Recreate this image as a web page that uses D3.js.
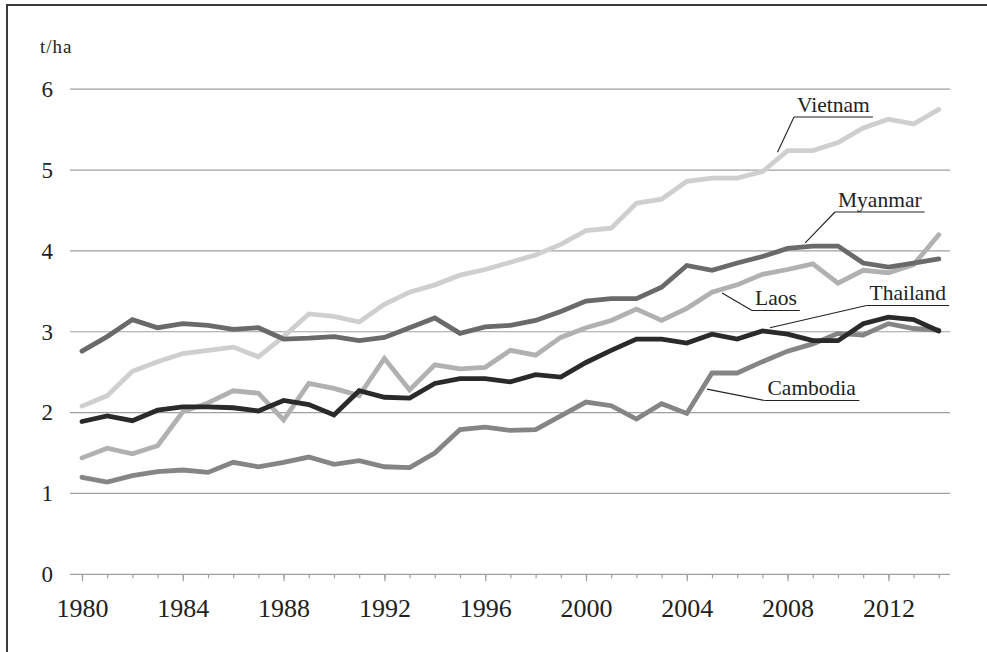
<!DOCTYPE html>
<html>
<head>
<meta charset="utf-8">
<script src="https://cdn.jsdelivr.net/npm/d3@7"></script>
<style>
  html, body { margin: 0; padding: 0; background: #fff; }
  svg { display: block; }
  svg text { font-family: "Liberation Serif", "DejaVu Serif", serif !important; fill: #222; }
</style>
</head>
<body>
<div id="chart"></div>
<script>
// ---- data ----
const years = d3.range(1980, 2015);
const vietnam = [2.08,2.21,2.51,2.63,2.73,2.77,2.81,2.69,2.94,3.22,3.19,3.12,3.34,3.49,3.58,3.70,3.77,3.86,3.95,4.08,4.25,4.28,4.59,4.64,4.86,4.90,4.90,4.98,5.24,5.24,5.34,5.52,5.63,5.57,5.75];
const myanmar = [2.76,2.94,3.15,3.05,3.10,3.08,3.03,3.05,2.91,2.92,2.94,2.89,2.93,3.05,3.17,2.98,3.06,3.08,3.14,3.25,3.38,3.41,3.41,3.55,3.82,3.76,3.85,3.93,4.03,4.06,4.06,3.85,3.80,3.85,3.90];
const laos    = [1.44,1.56,1.49,1.59,2.01,2.12,2.27,2.24,1.91,2.36,2.30,2.21,2.67,2.28,2.59,2.54,2.56,2.77,2.71,2.93,3.05,3.14,3.28,3.14,3.29,3.49,3.58,3.71,3.77,3.84,3.60,3.76,3.73,3.83,4.20];
const thailand= [1.89,1.96,1.90,2.03,2.07,2.07,2.06,2.02,2.15,2.10,1.97,2.27,2.19,2.18,2.36,2.42,2.42,2.38,2.47,2.44,2.62,2.77,2.91,2.91,2.86,2.97,2.91,3.01,2.97,2.89,2.89,3.10,3.18,3.15,3.01];
const cambodia= [1.20,1.14,1.22,1.27,1.29,1.26,1.385,1.33,1.385,1.45,1.36,1.405,1.33,1.32,1.50,1.79,1.82,1.78,1.79,1.96,2.13,2.085,1.92,2.11,1.99,2.49,2.49,2.63,2.76,2.85,2.98,2.96,3.10,3.04,3.02];
const seriesNames = ["Vietnam","Laos","Cambodia","Myanmar","Thailand"];
const yTicks = [0,1,2,3,4,5,6];
const xLabelTicks = [1980,1984,1988,1992,1996,2000,2004,2008,2012];
const unitLabel = "t/ha";

// ---- styles / layout ----
const W = 987, H = 652;
const FONT = '"Liberation Serif", "DejaVu Serif", serif';
const colors = { Vietnam:"#cfcfcf", Laos:"#b1b1b1", Cambodia:"#858585", Myanmar:"#6a6a6a", Thailand:"#2a2a2a" };
const valuesBy = { Vietnam:vietnam, Laos:laos, Cambodia:cambodia, Myanmar:myanmar, Thailand:thailand };
// annotation layout: text position (px) and leader target in data coordinates
const notes = [
  { name:"Vietnam",  tx:797, ty:111.5, year:2007.6, val:5.22 },
  { name:"Myanmar",  tx:838, ty:206.5, year:2008.7, val:4.10 },
  { name:"Laos",     tx:755, ty:305,   year:2005.4, val:3.48 },
  { name:"Thailand", tx:869.5, ty:300, year:2007.3, val:3.05 },
  { name:"Cambodia", tx:767.5, ty:395, year:2004.8, val:2.29 }
];

const svg = d3.select("#chart").append("svg").attr("width", W).attr("height", H)
  .attr("font-family", FONT);

// frame (left and top edges visible)
svg.append("rect").attr("x", 7).attr("y", 5).attr("width", W + 20).attr("height", H + 20)
  .attr("fill", "none").attr("stroke", "#3a3a3a").attr("stroke-width", 2);

const x = d3.scaleLinear().domain([1980, 2014]).range([82, 938.8]);
const y = d3.scaleLinear().domain([0, 6]).range([574.3, 89.2]);
const gridX0 = 70, gridX1 = 950;

// gridlines
svg.append("g").selectAll("line").data(yTicks.filter(d => d > 0)).join("line")
  .attr("x1", gridX0).attr("x2", gridX1)
  .attr("y1", d => y(d)).attr("y2", d => y(d))
  .attr("stroke", "#a0a0a0").attr("stroke-width", 1.2);

// y labels
svg.append("g").selectAll("text").data(yTicks).join("text")
  .attr("x", 53).attr("y", d => y(d)).attr("dy", "0.34em")
  .attr("text-anchor", "end").attr("font-size", 23)
  .style("font-family", FONT).text(d => d);

svg.append("text").attr("x", 40).attr("y", 52.5).attr("font-size", 19)
  .style("font-family", FONT).attr("letter-spacing", 1).text(unitLabel);

// x axis: minor ticks every year
const gx = svg.append("g").attr("transform", `translate(0,${y(0)})`);
gx.call(d3.axisBottom(x).tickValues(years).tickSize(4).tickFormat(""));
gx.select(".domain").attr("d", `M${gridX0},0H${gridX1}`);
gx.selectAll(".domain, .tick line").attr("stroke", "#a0a0a0").attr("stroke-width", 1.2);
const gx2 = svg.append("g").attr("transform", `translate(0,${y(0)})`);
gx2.call(d3.axisBottom(x).tickValues(xLabelTicks).tickSize(7).tickPadding(17).tickFormat(d3.format("d")));
gx2.attr("font-family", FONT);
gx2.select(".domain").remove();
gx2.selectAll(".tick line").attr("stroke", "#a0a0a0").attr("stroke-width", 1.2);
gx2.selectAll(".tick text").attr("font-size", 26).attr("fill", "#222").style("font-family", FONT);

// lines
const line = d3.line().x((d, i) => x(years[i])).y(d => y(d));
svg.append("g").selectAll("path").data(seriesNames).join("path")
  .attr("d", n => line(valuesBy[n]))
  .attr("fill", "none")
  .attr("stroke", n => colors[n])
  .attr("stroke-width", 4.8)
  .attr("stroke-linejoin", "miter")
  .attr("stroke-linecap", "round");

// annotations
const ag = svg.append("g");
notes.forEach(n => {
  const t = ag.append("text").attr("x", n.tx).attr("y", n.ty).attr("font-size", 21.5)
    .style("font-family", FONT).text(n.name);
  const bb = t.node().getBBox();
  const uy = n.ty + 5.5;
  const ux0 = bb.x - 3, ux1 = bb.x + bb.width + 3;
  ag.append("line").attr("x1", ux0).attr("x2", ux1).attr("y1", uy).attr("y2", uy)
    .attr("stroke", "#222").attr("stroke-width", 1.2);
  ag.append("line").attr("x1", ux0).attr("y1", uy).attr("x2", x(n.year)).attr("y2", y(n.val))
    .attr("stroke", "#222").attr("stroke-width", 1.1);
});
</script>
</body>
</html>
